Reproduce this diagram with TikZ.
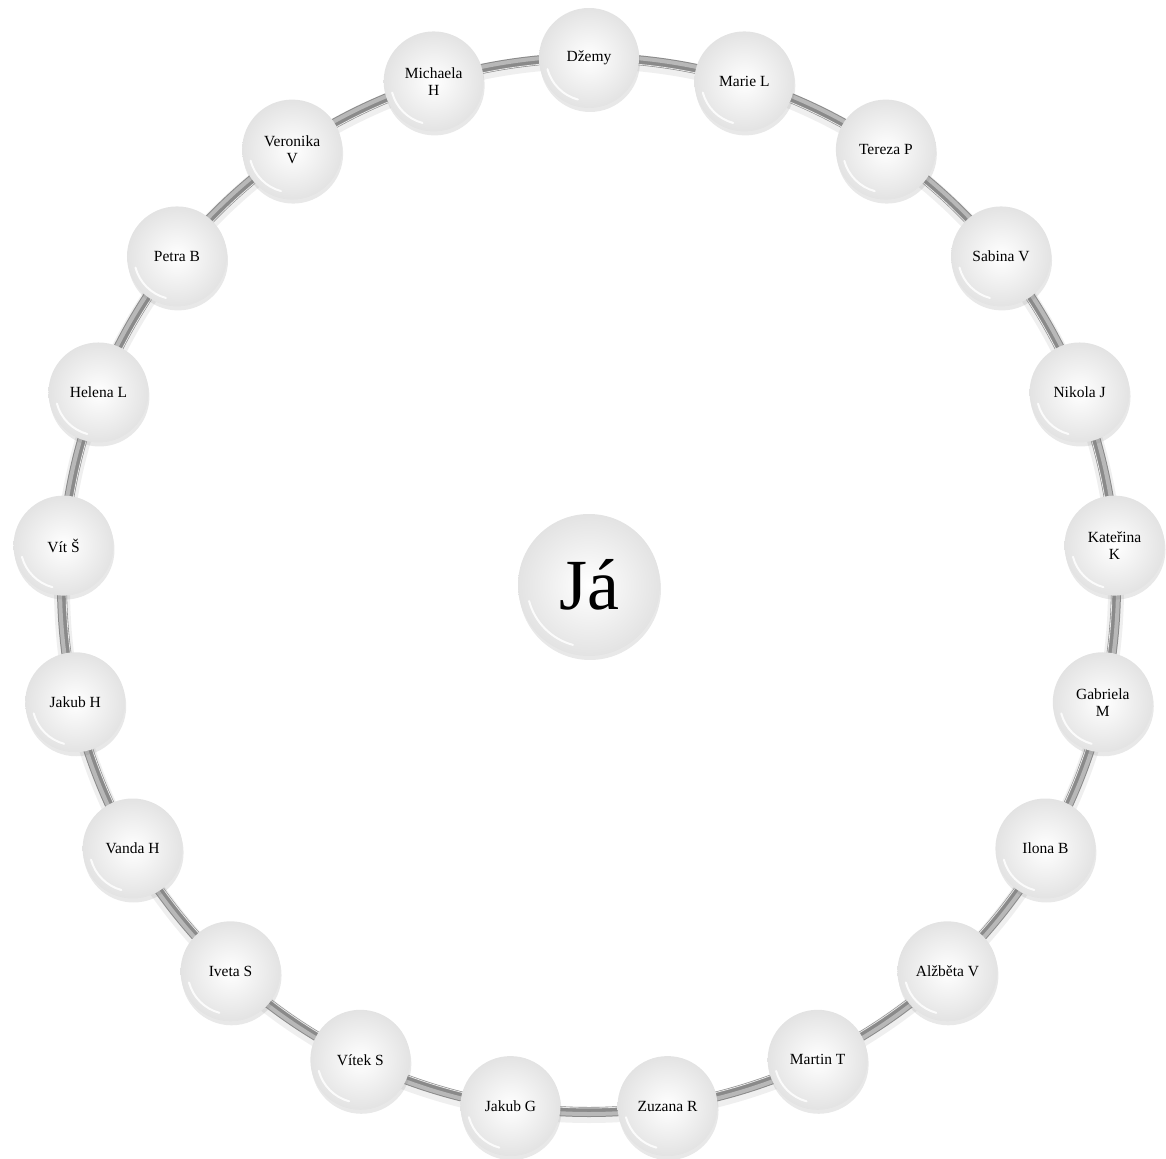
\documentclass[tikz,border=0pt]{standalone}
\usepackage{fontspec}
\setmainfont{Liberation Serif}
\usetikzlibrary{shadows}
\tikzset{
  ball/.style={
    circle, draw=none,
    shading=radial, inner color=white, outer color=black!11,
    drop shadow={shadow xshift=1pt, shadow yshift=-4pt, opacity=0.18},
    align=center, inner sep=0pt
  },
  gloss/.style={
    path picture={
      \draw[white, line width=2pt, line cap=round, opacity=0.85]
        ([shift={(195:#1)}]path picture bounding box.center)
        arc[start angle=195, end angle=255, radius=#1];
    }
  },
  person/.style={
    ball, gloss=43, minimum size=100pt,
    font=\fontsize{15.5}{17}\selectfont
  },
  centre/.style={
    ball, gloss=62, minimum size=142pt,
    font=\fontsize{72}{72}\selectfont
  },
  ringbase/.style={line width=16pt, black!10, opacity=0.6},
  ringtube/.style={line width=10pt, black!46},
  ringlight/.style={line width=4pt, black!28}
}

\begin{document}
\begin{tikzpicture}[x=1pt, y=1pt]
\useasboundingbox (-589,-573) rectangle (577,585);

% Ring
\coordinate (mid) at (0,0);
\draw[ringbase] (0,-3) circle[radius=527];
\draw[ringtube] (mid) circle[radius=527];
\draw[ringlight] (mid) circle[radius=529];
\draw[white, line width=0.8pt, opacity=0.8] (mid) circle[radius=523];

% Centre
\node[centre] (me) at (mid) {Já};

% People on the ring
\foreach \who [count=\i] in {Džemy, Marie L, Tereza P, Sabina V, Nikola J,
    {Kateřina\\K}, {Gabriela\\M}, Ilona B, Alžběta V, Martin T, Zuzana R,
    Jakub G, Vítek S, Iveta S, Vanda H, Jakub H, Vít Š, Helena L, Petra B,
    {Veronika\\V}, {Michaela\\H}}
  \node[person] (p\i) at ({90-(\i-1)*360/21}:527) {\who};

\end{tikzpicture}
\end{document}
